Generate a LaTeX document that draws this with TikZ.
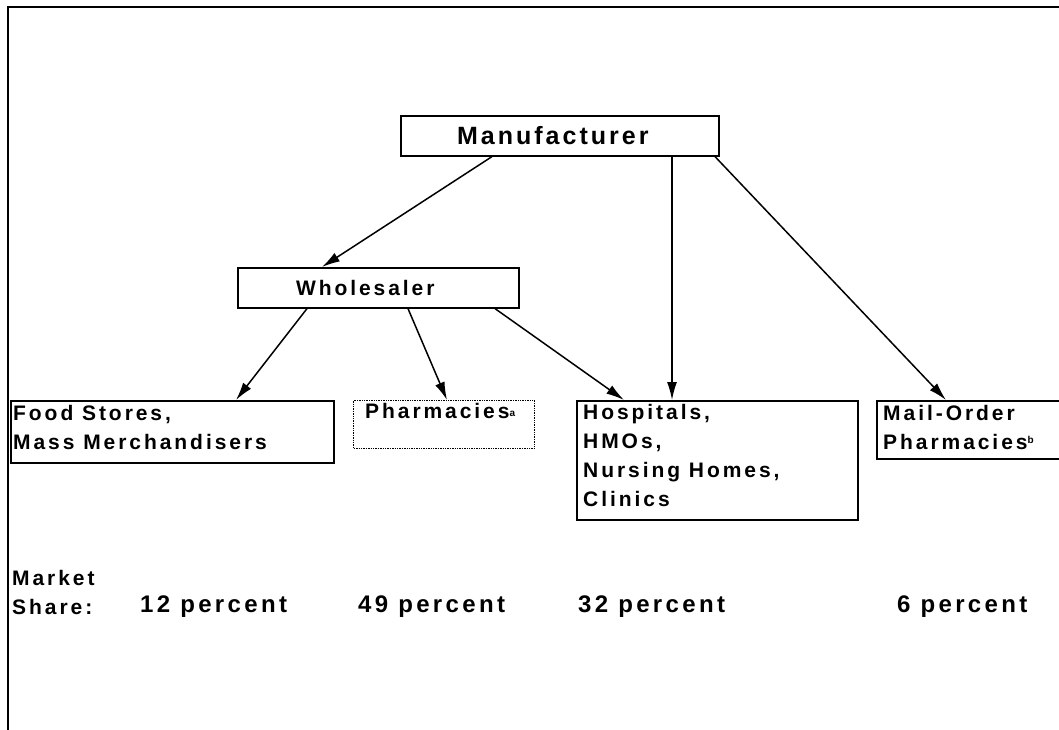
\documentclass[tikz,border=0pt]{standalone}
\usepackage{fontspec}
\setmainfont{Liberation Sans}
\newfontfamily\boxf{Liberation Sans}[LetterSpace=14]
\newfontfamily\manf{Liberation Sans}[LetterSpace=12]
\newfontfamily\pctf{Liberation Sans}[LetterSpace=14]
\usetikzlibrary{arrows.meta,calc}
\newcommand{\lines}[1]{\begin{tabular}[t]{@{}l@{}}#1\end{tabular}}
\begin{document}
\begin{tikzpicture}[x=1pt,y=-1pt,
  box/.style={draw,line width=1.6pt,anchor=north west,inner sep=0pt},
  dotbox/.style={draw,line width=1.4pt,densely dotted,anchor=north west,inner sep=0pt},
  lbl/.style={anchor=base west,inner sep=0pt,font=\boxf\fontsize{21}{29}\selectfont\bfseries},
  pct/.style={anchor=base west,inner sep=0pt,font=\pctf\fontsize{24}{29}\selectfont\bfseries},
  arr/.style={line width=1.5pt,-{Latex[length=18pt,width=10pt]}},
  frame/.style={line width=2pt}]
\useasboundingbox (0,0) rectangle (1059,730);
\coordinate (tl) at (8,7);
\coordinate (tr) at (1059,7);
\coordinate (bl) at (8,730);
\draw[frame] (tr) -- (tl) -- (bl);
% top boxes
\node[box,minimum width=318pt,minimum height=40pt,font=\manf\fontsize{25}{28}\selectfont\bfseries] (manu) at (400,115) {Manufacturer\kern14pt};
\node[box,minimum width=281pt,minimum height=40pt,font=\boxf\fontsize{21}{24}\selectfont\bfseries] (whole) at (237,267) {Wholesaler\kern26pt};
% bottom boxes
\node[box,minimum width=323pt,minimum height=62pt] (food) at (10,400) {};
\node[dotbox,minimum width=181pt,minimum height=48pt] (pharm) at (353,400) {};
\node[box,minimum width=281pt,minimum height=119pt] (hosp) at (576,400) {};
\node[box,minimum width=190pt,minimum height=58pt] (mail) at (876,400) {};
% box texts
\node[lbl] (foodt) at (13,420) {\lines{Food Stores,\\Mass Merchandisers}};
\node[lbl] (pharmt) at (365,418) {Pharmacies\raisebox{2pt}{\fontsize{10}{10}\selectfont a}};
\node[lbl] (hospt) at (583,419) {\lines{Hospitals,\\HMOs,\\Nursing Homes,\\Clinics}};
\node[lbl] (mailt) at (883,420) {\lines{Mail-Order\\Pharmacies\raisebox{6pt}{\fontsize{10}{10}\selectfont b}}};
% market share
\node[lbl] (mkt) at (12,585) {\lines{Market\\Share:}};
\node[pct] (p12) at (140,612) {12 percent};
\node[pct] (p49) at (358,612) {49 percent};
\node[pct] (p32) at (578,612) {32 percent};
\node[pct] (p6) at (897,612) {6 percent};
% arrows
\draw[arr] ($(manu.south west)+(92,0)$) -- ($(whole.north west)+(85,0)$);
\draw[arr] ($(manu.south west)+(272,0)$) -- ($(hosp.north west)+(96,0)$);
\draw[arr] ($(manu.south west)+(315,0)$) -- ($(mail.north west)+(70,0)$);
\draw[arr] ($(whole.south west)+(70,0)$) -- ($(food.north west)+(226,0)$);
\draw[arr] ($(whole.south west)+(171,0)$) -- ($(pharm.north west)+(94,0)$);
\draw[arr] ($(whole.south west)+(258,0)$) -- ($(hosp.north west)+(48,0)$);
\end{tikzpicture}
\end{document}
